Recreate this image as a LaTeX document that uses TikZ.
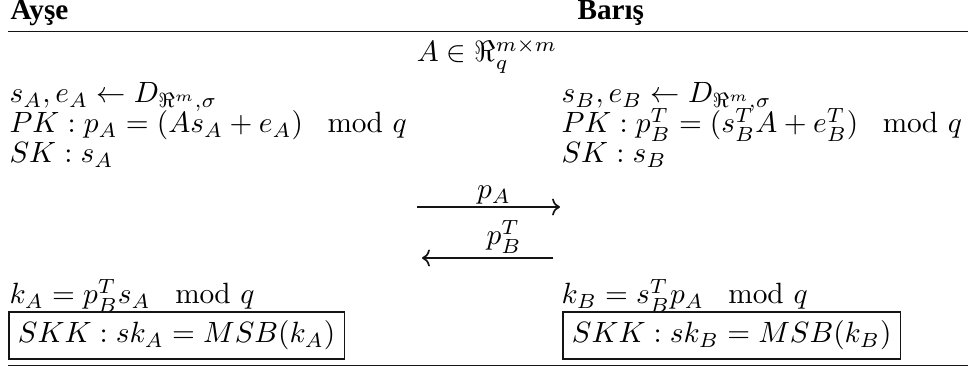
\documentclass[tikz,border=0pt]{standalone}
\usepackage{amsmath}
\usepackage{fontspec}
\usetikzlibrary{arrows.meta}
\newfontfamily\headfont{Liberation Serif}
\definecolor{rulecol}{RGB}{ 20, 20, 20}
\definecolor{textcol}{RGB}{  0,  0,  0}
\newcommand{\modq}{\mkern15mu\mathrm{mod}\,\,q}

\begin{document}
\begin{tikzpicture}[
  % one unit = one pixel of the 968x367 layout, y axis pointing down
  x=0.341pt, y=-0.341pt,
  >={To[length=2.7pt,width=5.8pt]},
  party/.style={font=\headfont\fontsize{9.95}{12}\selectfont\bfseries,
                text=textcol,anchor=base west,inner sep=0pt},
  eqline/.style={text=textcol,anchor=base west,inner sep=0pt},
  msglabel/.style={text=textcol,anchor=base,inner sep=0pt},
  keybox/.style={draw=rulecol,line width=0.52pt,inner sep=3.1pt,anchor=west},
  hrule/.style={rulecol,line width=0.68pt},
  msgarrow/.style={rulecol,line width=0.58pt,->}
]
\useasboundingbox (0,0) rectangle (968,367);

% ---- header --------------------------------------------------------------
\node[party] (ayse)  at (10,20)  {Ayşe};
\node[party] (baris) at (577,20) {Barış};
\coordinate (topL) at (8,31.5);
\coordinate (topR) at (968,31.5);
\draw[hrule] (topL) -- (topR);

% ---- public matrix -------------------------------------------------------
\node[msglabel] (pubA) at (487,62) {$A\in\Re_q^{m\times m}$};

% ---- key generation ------------------------------------------------------
\node[eqline] (sampA) at (9,103)  {$s_A,e_A\leftarrow D_{\Re^m,\sigma}$};
\node[eqline] (pkA)   at (9,133)  {$PK:p_A=(As_A+e_A)\modq$};
\node[eqline] (skA)   at (9,163)  {$SK:s_A$};

\node[eqline] (sampB) at (561,103) {$s_B,e_B\leftarrow D_{\Re^m,\sigma}$};
\node[eqline] (pkB)   at (561,133) {$PK:p_B^T=(s_B^TA+e_B^T)\modq$};
\node[eqline] (skB)   at (561,163) {$SK:s_B$};

% ---- exchange ------------------------------------------------------------
\coordinate (pAtail) at (417,207);
\coordinate (pAtip)  at (560,207);
\draw[msgarrow] (pAtail) -- (pAtip);
\node[msglabel] (pAlbl) at (494,199) {$p_A$};

\coordinate (pBtail) at (553,258);
\coordinate (pBtip)  at (422,258);
\draw[msgarrow] (pBtail) -- (pBtip);
\node[msglabel] (pBlbl) at (504,245) {$p_B^T$};

% ---- shared key ----------------------------------------------------------
\node[eqline] (kA) at (9,304)   {$k_A=p_B^Ts_A\modq$};
\node[eqline] (kB) at (561,304) {$k_B=s_B^Tp_A\modq$};
\node[keybox] (skkA) at (8,335.5)   {$SKK:sk_A=MSB(k_A)$};
\node[keybox] (skkB) at (562,335.5) {$SKK:sk_B=MSB(k_B)$};

\coordinate (botL) at (8,365.5);
\coordinate (botR) at (968,365.5);
\draw[hrule] (botL) -- (botR);

\end{tikzpicture}
\end{document}
